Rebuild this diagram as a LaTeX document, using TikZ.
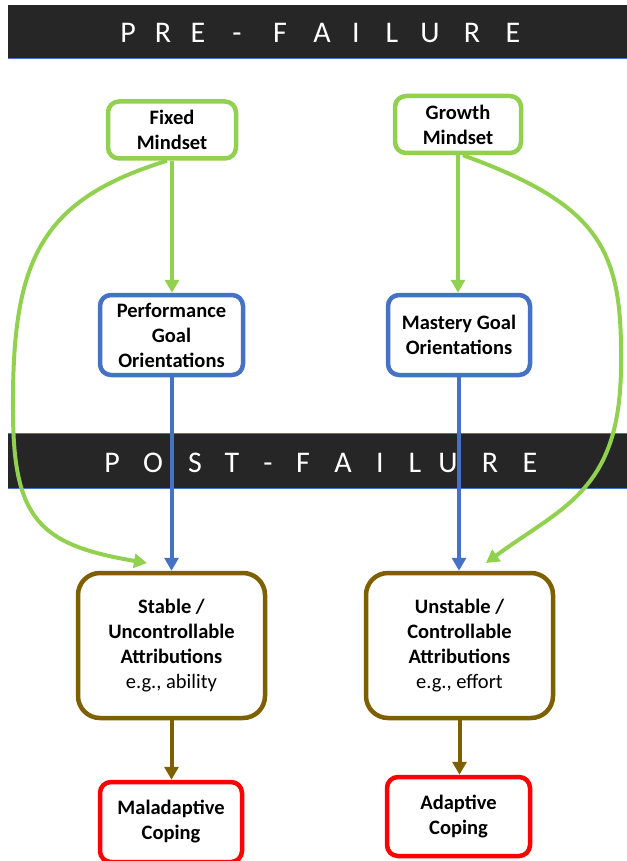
\documentclass[tikz,border=0pt]{standalone}
\usepackage{fontspec}
\setmainfont{Carlito}
\usetikzlibrary{arrows.meta}
\definecolor{cgreen}{HTML}{92D050}
\definecolor{cblue}{HTML}{4472C4}
\definecolor{cbrown}{HTML}{7F6000}
\definecolor{cred}{HTML}{FF0000}
\definecolor{cband}{HTML}{262626}
\tikzset{
  box/.style={draw, line width=4.5pt, fill=white, align=center, inner sep=0pt,
    font=\fontsize{20.5}{25}\selectfont\bfseries},
  smallbox/.style={box, rounded corners=11pt},
  bigbox/.style={box, rounded corners=22pt},
  band/.style={fill=cband},
  bandline/.style={draw=cblue, line width=0.8pt},
  bandletter/.style={text=white, inner sep=0pt, anchor=base, font=\fontsize{30}{36}\selectfont},
  conn/.style={line width=4pt, -{Triangle[length=13pt,width=14pt]}},
}
\begin{document}
\begin{tikzpicture}[x=1pt,y=-1pt]
\useasboundingbox (0,0) rectangle (626,861);
% bands
\path[band] (8,5) rectangle (630,58);
\path[bandline] (8,58) -- (630,58);
\path[band] (8,433) rectangle (630,488);
\path[bandline] (8,433) -- (630,433) (8,488) -- (630,488);
\foreach \l/\x [count=\i] in {P/128,R/163,E/198,-/237,F/280,A/322,I/356,L/392,U/430,R/472,E/513}
  \node[bandletter] (pre\i) at (\x,43) {\l};
\foreach \l/\x [count=\i] in {P/112,O/153,S/195,T/232,-/268,F/303,A/343,I/380,L/415,U/448,R/490,E/530}
  \node[bandletter] (post\i) at (\x,472) {\l};
% boxes
\node[smallbox, draw=cgreen, minimum width=128pt, minimum height=57pt] (fixed) at (172,130) {Fixed\\Mindset};
\node[smallbox, draw=cgreen, minimum width=126pt, minimum height=57pt] (growth) at (458,124.5) {Growth\\Mindset};
\node[smallbox, draw=cblue, minimum width=143pt, minimum height=80pt] (perf) at (171.5,335) {Performance\\Goal\\Orientations};
\node[smallbox, draw=cblue, minimum width=142pt, minimum height=80pt] (mastery) at (459,335) {Mastery Goal\\Orientations};
\node[bigbox, draw=cbrown, minimum width=187pt, minimum height=145pt] (stable) at (171.5,645.5) {Stable /\\Uncontrollable\\Attributions\\{\mdseries e.g., ability}};
\node[bigbox, draw=cbrown, minimum width=187pt, minimum height=145pt] (unstable) at (459.5,645.5) {Unstable /\\Controllable\\Attributions\\{\mdseries e.g., effort}};
\node[smallbox, draw=cred, minimum width=142pt, minimum height=80pt] (mal) at (171,822) {Maladaptive\\Coping};
\node[smallbox, draw=cred, minimum width=143pt, minimum height=79pt] (adapt) at (458.5,816.5) {Adaptive\\Coping};
% straight connectors
\draw[conn, cgreen] (fixed.south) -- (fixed.south |- perf.north);
\draw[conn, cgreen] (growth.south) -- (growth.south |- mastery.north);
\draw[conn, cblue] (perf.south) -- (perf.south |- stable.north);
\draw[conn, cblue] (mastery.south) -- (mastery.south |- unstable.north);
\draw[conn, cbrown] (stable.south) -- (stable.south |- mal.north);
\draw[conn, cbrown] (unstable.south) -- (unstable.south |- adapt.north);
% curved connectors
\coordinate (ltip) at (147,563);
\coordinate (rtip) at (486,563);
\draw[conn, cgreen] ([xshift=-5pt]fixed.south) .. controls (40,200) and (12,260) .. (13,410)
   .. controls (13,520) and (40,545) .. (ltip);
\draw[conn, cgreen] ([xshift=5pt]growth.south) .. controls (600,205) and (622,250) .. (621,360)
   .. controls (622,490) and (565,505) .. (rtip);
\end{tikzpicture}
\end{document}
